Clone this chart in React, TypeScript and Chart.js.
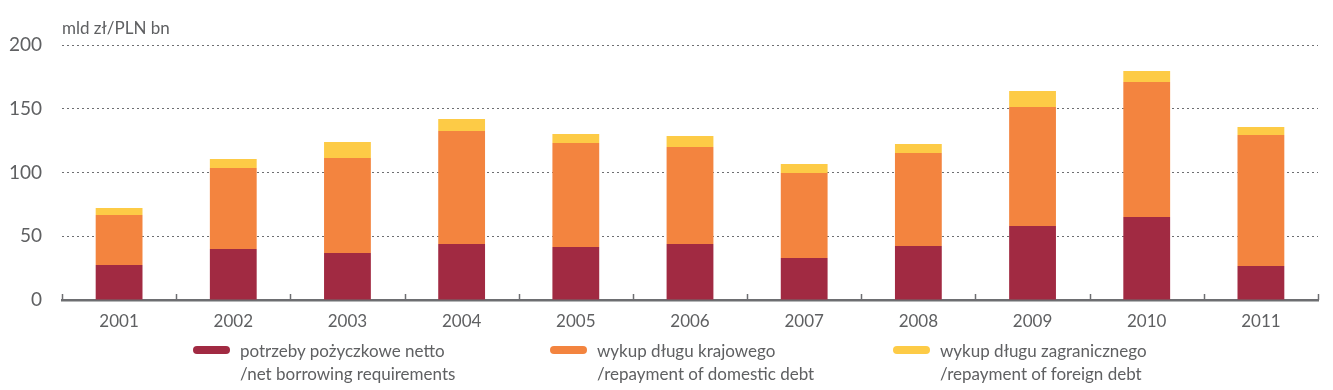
import React, { useEffect, useRef } from "react";
import { Chart, registerables } from "chart.js";

Chart.register(...registerables);

const years = ["2001", "2002", "2003", "2004", "2005", "2006", "2007", "2008", "2009", "2010", "2011"];
const netBorrowing = [27.5, 40.0, 36.9, 43.9, 41.6, 43.9, 32.9, 42.4, 58.0, 65.1, 26.7];
const domesticDebt = [39.2, 63.5, 74.5, 88.6, 81.5, 76.1, 66.7, 72.9, 93.4, 105.9, 102.7];
const foreignDebt = [5.5, 7.1, 12.5, 9.5, 7.1, 8.6, 7.1, 7.1, 12.5, 8.6, 6.3];
const yTicks = [0, 50, 100, 150, 200];
const unitLabel = "mld zł/PLN bn";
const legendItems = [
  { color: "#A12A42", lines: ["potrzeby pożyczkowe netto", "/net borrowing requirements"] },
  { color: "#F3843F", lines: ["wykup długu krajowego", "/repayment of domestic debt"] },
  { color: "#FDCB46", lines: ["wykup długu zagranicznego", "/repayment of foreign debt"] },
];

const FONT = "Lato, 'Open Sans', sans-serif";
const GRAY = "#6d6e71";

const extrasPlugin = {
  id: "extras",
  afterDraw(chart: any) {
    const { ctx, chartArea } = chart;
    const x = chart.scales.x;
    ctx.save();
    // unit label
    ctx.fillStyle = "#5f6062";
    ctx.font = `17px ${FONT}`;
    ctx.textAlign = "left";
    ctx.textBaseline = "middle";
    ctx.fillText(unitLabel, chartArea.left, 29);
    // category boundary ticks
    const n = years.length;
    const step = (x.right - x.left) / n;
    ctx.strokeStyle = GRAY;
    ctx.lineWidth = 1.5;
    for (let i = 0; i <= n; i++) {
      const px = Math.round(x.left + i * step) + 0.5;
      ctx.beginPath();
      ctx.moveTo(px, chartArea.bottom);
      ctx.lineTo(px, chartArea.bottom - 6);
      ctx.stroke();
    }
    ctx.restore();
  },
};

export default function App() {
  const ref = useRef<HTMLCanvasElement>(null);
  useEffect(() => {
    document.body.style.margin = "0";
    const chart = new Chart(ref.current!, {
      type: "bar",
      data: {
        labels: years,
        datasets: [
          { label: legendItems[0].lines.join(" "), data: netBorrowing, backgroundColor: legendItems[0].color },
          { label: legendItems[1].lines.join(" "), data: domesticDebt, backgroundColor: legendItems[1].color },
          { label: legendItems[2].lines.join(" "), data: foreignDebt, backgroundColor: legendItems[2].color },
        ],
      },
      options: {
        animation: false,
        responsive: false,
        maintainAspectRatio: false,
        layout: { padding: { top: 45, right: 15, bottom: 55, left: 0 } },
        datasets: { bar: { categoryPercentage: 1, barPercentage: 0.41 } },
        plugins: { legend: { display: false }, tooltip: { enabled: false } },
        scales: {
          x: {
            stacked: true,
            grid: { display: false, drawTicks: false },
            border: { display: true, color: GRAY, width: 2.5 },
            ticks: { color: "#5f6062", font: { family: FONT, size: 17 }, padding: 11 },
            afterFit: (s: any) => { s.height = 35; },
          },
          y: {
            stacked: true,
            min: 0,
            max: 200,
            afterBuildTicks: (s: any) => { s.ticks = yTicks.map((v) => ({ value: v })); },
            grid: {
              drawTicks: false,
              color: (c: any) => (c.tick && c.tick.value === 0 ? "rgba(0,0,0,0)" : GRAY),
              lineWidth: 1,
            },
            border: { display: false, dash: [2, 3] },
            ticks: { color: "#5f6062", font: { family: FONT, size: 19 }, padding: 20 },
            afterFit: (s: any) => { s.width = 62; },
          },
        },
      },
      plugins: [extrasPlugin],
    } as any);
    return () => chart.destroy();
  }, []);

  const lefts = [193, 550, 893];
  return (
    <div style={{ position: "relative", width: 1333, height: 390, fontFamily: FONT }}>
      <canvas ref={ref} width={1333} height={390} style={{ display: "block" }} />
      {legendItems.map((it, i) => (
        <div key={i} style={{ position: "absolute", left: lefts[i], top: 339, display: "flex", alignItems: "flex-start" }}>
          <div style={{ width: 37, height: 8, borderRadius: 4, background: it.color, marginTop: 7, marginRight: 10 }} />
          <div style={{ fontSize: 17, lineHeight: "23px", color: "#5f6062" }}>
            {it.lines.map((l, j) => (
              <div key={j}>{l}</div>
            ))}
          </div>
        </div>
      ))}
    </div>
  );
}
